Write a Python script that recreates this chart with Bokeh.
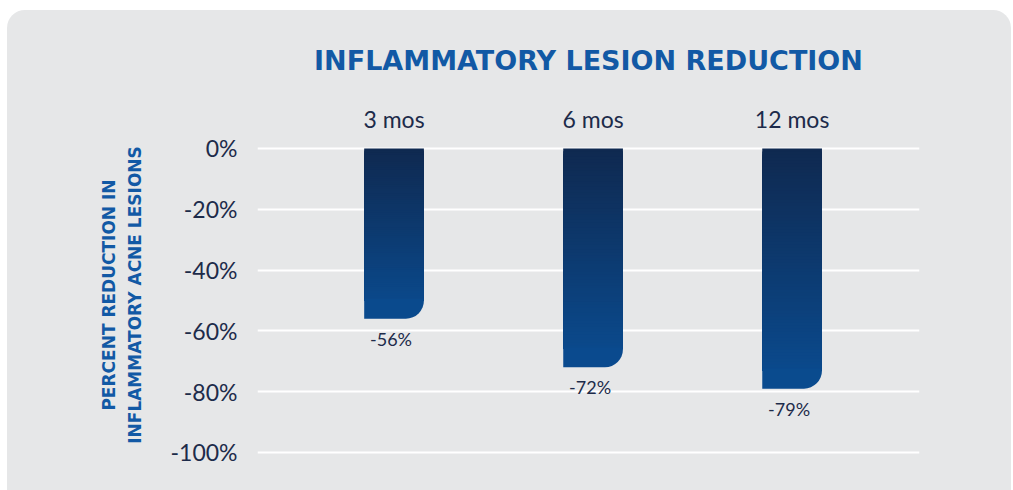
import numpy as np
from bokeh.plotting import figure
from bokeh.models import Range1d, FixedTicker, PrintfTickFormatter, ColumnDataSource
from bokeh.embed import file_html
from bokeh.resources import INLINE
from bokeh.core.properties import value

# ---- data ----
categories = ["3 mos", "6 mos", "12 mos"]
reduction = [-56, -72, -79]
value_labels = ["-56%", "-72%", "-79%"]
y_ticks = [0, -20, -40, -60, -80, -100]
title_text = "INFLAMMATORY LESION REDUCTION"
y_label = "PERCENT REDUCTION IN\nINFLAMMATORY ACNE LESIONS"

# ---- style ----
PANEL = "#e6e7e8"
TOP_C = np.array([15, 41, 80])
BOT_C = np.array([10, 76, 145])
TEXT_DARK = "#1d2b4a"
BLUE = "#1259a5"

p = figure(width=1004, height=480, output_backend="svg", toolbar_location=None,
           x_range=Range1d(0.314, 3.64), y_range=Range1d(-101, 4.6),
           x_axis_location="above",
           min_border_left=250, min_border_right=92, min_border_top=124,
           min_border_bottom=35)
p.styles = {"border-radius": "18px 18px 0 0", "overflow": "hidden",
            "margin-left": "7px", "margin-top": "10px",
            "background-color": PANEL}
p.background_fill_alpha = 0
p.border_fill_alpha = 0
p.outline_line_color = None

p.title.text = title_text
p.title.align = "center"
p.title.text_font = "DejaVu Sans"
p.title.text_font_style = "bold"
p.title.text_font_size = "27px"
p.title.text_color = BLUE
p.title.standoff = 52

xs = list(range(1, len(categories) + 1))
xax = p.xaxis[0]
xax.ticker = FixedTicker(ticks=xs)
xax.major_label_overrides = {x: c for x, c in zip(xs, categories)}
xax.axis_line_color = None
xax.major_tick_line_color = None
xax.minor_tick_line_color = None
xax.major_tick_out = 0
xax.major_tick_in = 0
xax.major_label_standoff = 2
xax.major_label_text_font = "Lato"
xax.major_label_text_font_size = "23px"
xax.major_label_text_color = TEXT_DARK

p.xgrid.grid_line_color = None
p.ygrid.grid_line_color = "white"
p.ygrid.grid_line_width = 2

ax = p.yaxis[0]
ax.ticker = FixedTicker(ticks=y_ticks)
ax.formatter = PrintfTickFormatter(format="%d%%")
ax.axis_line_color = None
ax.major_tick_line_color = None
ax.minor_tick_line_color = None
ax.major_label_standoff = 14
ax.major_label_text_font = "Lato"
ax.major_label_text_font_size = "23px"
ax.major_label_text_color = TEXT_DARK
ax.axis_label = y_label
ax.axis_label_text_font = "DejaVu Sans"
ax.axis_label_text_font_style = "bold"
ax.axis_label_text_font_size = "17px"
ax.axis_label_text_line_height = 1.3
ax.axis_label_text_color = BLUE
ax.axis_label_standoff = 23

# ---- bars with vertical gradient (strips) and rounded bottom-right corner ----
half = 0.15
n_strips = 80
cap = 6.5  # data units covered by the rounded bottom piece


def grad(t):
    c = (TOP_C + (BOT_C - TOP_C) * min(max(t, 0.0), 1.0)).round().astype(int)
    return "#%02x%02x%02x" % tuple(c)


sl, sr, st, sb, sc = [], [], [], [], []
bl, br, bt, bb, bc = [], [], [], [], []
for i, v in enumerate(reduction):
    xc = i + 1
    for k in range(n_strips):
        top = v * k / n_strips
        if top <= v + cap:
            break
        t = (k + 0.5) / n_strips
        sl.append(xc - half); sr.append(xc + half)
        st.append(top); sb.append(v + cap - 0.5)
        sc.append(grad(t))
    bl.append(xc - half); br.append(xc + half)
    bt.append(v + cap); bb.append(v)
    bc.append(grad(1 - cap / (2 * abs(v))))

p.quad(left=sl, right=sr, top=st, bottom=sb, fill_color=sc, line_color=None)
p.quad(left=bl, right=br, top=bt, bottom=bb, fill_color=bc, line_color=None,
       border_radius=dict(top_left=0, top_right=0, bottom_right=18, bottom_left=0))

# ---- value labels ----
val_src = ColumnDataSource(dict(x=xs, y=reduction, t=value_labels))
p.text(x="x", y="y", text="t", source=val_src, text_align="center",
       text_baseline="top", y_offset=9, x_offset=-3, text_font=value("Lato"),
       text_font_size="18px", text_color=TEXT_DARK)

open("out.html", "w").write(file_html(p, INLINE))
